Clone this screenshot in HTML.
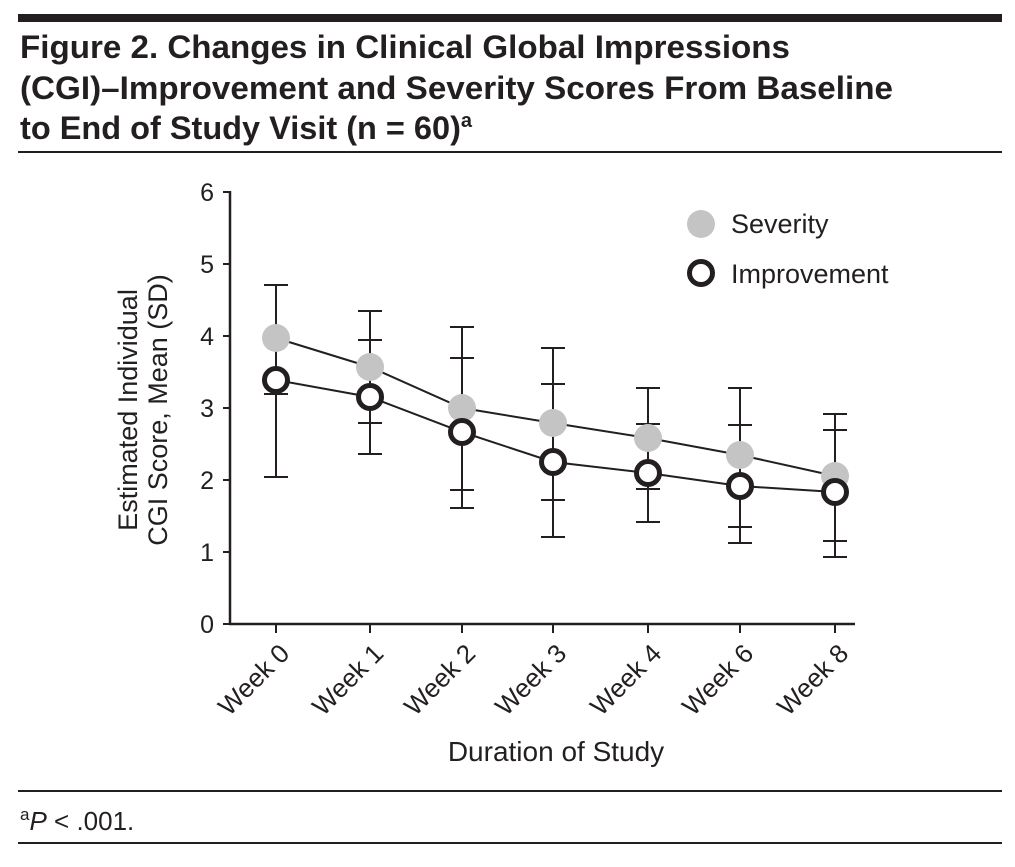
<!DOCTYPE html>
<html><head><meta charset="utf-8"><style>
body{margin:0;background:#fff;}
svg{display:block;font-family:"Liberation Sans",sans-serif;}
</style></head><body>
<svg width="1015" height="867" viewBox="0 0 1015 867" xmlns="http://www.w3.org/2000/svg">
<rect x="18" y="14" width="984" height="8" fill="#231f20"/>
<g font-weight="bold" font-size="32.5" fill="#231f20">
<text x="20" y="58" textLength="770" lengthAdjust="spacingAndGlyphs">Figure 2. Changes in Clinical Global Impressions</text>
<text x="20" y="99" textLength="873" lengthAdjust="spacingAndGlyphs">(CGI)–Improvement and Severity Scores From Baseline</text>
<text x="20" y="139">to End of Study Visit (n = 60)<tspan font-size="20" dy="-12">a</tspan></text>
</g>
<rect x="18" y="151" width="984" height="2" fill="#231f20"/>
<rect x="18" y="790" width="984" height="2" fill="#231f20"/>
<rect x="18" y="842" width="984" height="2" fill="#231f20"/>
<text x="20" y="830" font-size="26" fill="#231f20"><tspan font-size="17" dy="-10">a</tspan><tspan dy="10" font-style="italic">P</tspan> &lt; .001.</text>

<g stroke="#231f20" stroke-width="2.5" fill="none">
<line x1="230" y1="191" x2="230" y2="625"/>
<line x1="229" y1="624" x2="855" y2="624"/>
</g>
<g stroke="#231f20" stroke-width="2">
<line x1="223" y1="192" x2="230" y2="192"/><line x1="223" y1="264" x2="230" y2="264"/><line x1="223" y1="336" x2="230" y2="336"/><line x1="223" y1="408" x2="230" y2="408"/><line x1="223" y1="480" x2="230" y2="480"/><line x1="223" y1="552" x2="230" y2="552"/><line x1="223" y1="624" x2="230" y2="624"/>
<line x1="276" y1="624" x2="276" y2="633"/><line x1="370" y1="624" x2="370" y2="633"/><line x1="462" y1="624" x2="462" y2="633"/><line x1="553" y1="624" x2="553" y2="633"/><line x1="648" y1="624" x2="648" y2="633"/><line x1="740" y1="624" x2="740" y2="633"/><line x1="835" y1="624" x2="835" y2="633"/>
</g>
<g font-size="25" fill="#231f20" text-anchor="end">
<text x="214" y="201">6</text><text x="214" y="273">5</text><text x="214" y="345">4</text><text x="214" y="417">3</text><text x="214" y="489">2</text><text x="214" y="561">1</text><text x="214" y="633">0</text>
</g>
<g font-size="26" fill="#231f20" text-anchor="end">
<text transform="translate(291,655) rotate(-45)">Week 0</text>
<text transform="translate(385,655) rotate(-45)">Week 1</text>
<text transform="translate(477,655) rotate(-45)">Week 2</text>
<text transform="translate(568,655) rotate(-45)">Week 3</text>
<text transform="translate(663,655) rotate(-45)">Week 4</text>
<text transform="translate(755,655) rotate(-45)">Week 6</text>
<text transform="translate(850,655) rotate(-45)">Week 8</text>
</g>
<text x="556" y="761" font-size="28" fill="#231f20" text-anchor="middle">Duration of Study</text>
<g font-size="27" fill="#231f20" text-anchor="middle">
<text transform="translate(137,410) rotate(-90)">Estimated Individual</text>
<text transform="translate(167,410) rotate(-90)">CGI Score, Mean (SD)</text>
</g>

<g stroke="#231f20" stroke-width="2">
<path d="M276 285V477M264 285H288M264 394H288M264 477H288"/>
<path d="M370 311V454M358 311H382M358 340H382M358 423H382M358 454H382"/>
<path d="M462 327V508M450 327H474M450 358H474M450 490H474M450 508H474"/>
<path d="M553 348V537M541 348H565M541 384H565M541 500H565M541 537H565"/>
<path d="M648 388V522M636 388H660M636 424H660M636 489H660M636 522H660"/>
<path d="M740 388V543M728 388H752M728 425H752M728 527H752M728 543H752"/>
<path d="M835 414V557M823 414H847M823 430H847M823 541H847M823 557H847"/>
</g>
<polyline points="276,338 370,367 462,408 553,423 648,438 740,455 835,476" fill="none" stroke="#231f20" stroke-width="2"/>
<g fill="#c4c4c4">
<circle cx="276" cy="338" r="14"/><circle cx="370" cy="367" r="14"/><circle cx="462" cy="408" r="14"/><circle cx="553" cy="423" r="14"/><circle cx="648" cy="438" r="14"/><circle cx="740" cy="455" r="14"/><circle cx="835" cy="476" r="14"/>
</g>
<polyline points="276,380 370,397 462,432 553,462 648,473 740,486 835,492" fill="none" stroke="#231f20" stroke-width="2"/>
<g fill="#fff" stroke="#231f20" stroke-width="5">
<circle cx="276" cy="380" r="11.5"/><circle cx="370" cy="397" r="11.5"/><circle cx="462" cy="432" r="11.5"/><circle cx="553" cy="462" r="11.5"/><circle cx="648" cy="473" r="11.5"/><circle cx="740" cy="486" r="11.5"/><circle cx="835" cy="492" r="11.5"/>
</g>
<circle cx="701" cy="224" r="14" fill="#c4c4c4"/>
<circle cx="701" cy="273" r="11.5" fill="#fff" stroke="#231f20" stroke-width="5"/>
<g font-size="27" fill="#231f20">
<text x="731" y="233">Severity</text>
<text x="731" y="283">Improvement</text>
</g>
</svg>
</body></html>
